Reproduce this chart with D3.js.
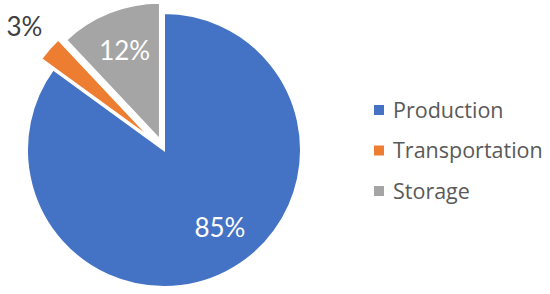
<!DOCTYPE html>
<html>
<head>
<meta charset="utf-8">
<script src="https://cdn.jsdelivr.net/npm/d3@7"></script>
<style>
  body { margin: 0; background: #fff; }
  text { font-family: Lato, "Open Sans", sans-serif; }
  .leg { font-family: "Open Sans", sans-serif; }
</style>
</head>
<body>
<script>
// slices, clockwise from 12 o'clock
let categories = ['Production', 'Transportation', 'Storage'];
let values = [85, 3, 12];
let labels = ['85%', '3%', '12%'];
let colors = ['#4472C4', '#ED7D31', '#A5A5A5'];

let w = 550, h = 294;
let cx = 164, cy = 150, r = 137;
let explode = [0, 16, 11];       // px each slice is pulled out
let labelR = [96, 186, 107];     // label distance from centre
let labelTurn = [-0.15, 0, 0];   // small angle nudge (rad) for label

let svg = d3.select('body').append('svg')
  .attr('width', w)
  .attr('height', h);

let data = categories.map((c, i) => ({ name: c, value: values[i], label: labels[i], color: colors[i], i }));

let pie = d3.pie().sort(null).value(d => d.value);
let arcs = pie(data);
let arc = d3.arc().innerRadius(0).outerRadius(r);

let g = svg.append('g').attr('transform', `translate(${cx},${cy})`);

const mid = a => (a.startAngle + a.endAngle) / 2;

g.selectAll('.slice')
  .data(arcs)
  .enter()
    .append('path')
    .classed('slice', true)
    .attr('d', arc)
    .attr('fill', d => d.data.color)
    .attr('stroke', '#fff')
    .attr('stroke-width', 2)
    .attr('stroke-linejoin', 'miter')
    .attr('transform', d => {
      let m = mid(d), e = explode[d.data.i];
      return `translate(${Math.sin(m) * e},${-Math.cos(m) * e})`;
    });

g.selectAll('.pct')
  .data(arcs)
  .enter()
    .append('text')
    .classed('pct', true)
    .attr('x', d => Math.sin(mid(d) + labelTurn[d.data.i]) * labelR[d.data.i])
    .attr('y', d => -Math.cos(mid(d) + labelTurn[d.data.i]) * labelR[d.data.i])
    .attr('dy', '0.36em')
    .attr('text-anchor', 'middle')
    .attr('font-size', 26)
    .attr('fill', d => d.data.i === 1 ? '#404040' : '#fff')
    .text(d => d.data.label);

// legend
let legend = svg.append('g').attr('transform', 'translate(374,110)');
let y = d3.scalePoint().domain(categories).range([0, 81]);

legend.selectAll('rect')
  .data(data)
  .enter()
    .append('rect')
    .attr('x', 0)
    .attr('y', d => y(d.name) - 5)
    .attr('width', 10)
    .attr('height', 10)
    .attr('fill', d => d.color);

legend.selectAll('.leg')
  .data(data)
  .enter()
    .append('text')
    .classed('leg', true)
    .attr('x', 19)
    .attr('y', d => y(d.name))
    .attr('dy', '0.36em')
    .attr('font-size', 21.5)
    .attr('fill', '#595959')
    .text(d => d.name);
</script>
</body>
</html>
